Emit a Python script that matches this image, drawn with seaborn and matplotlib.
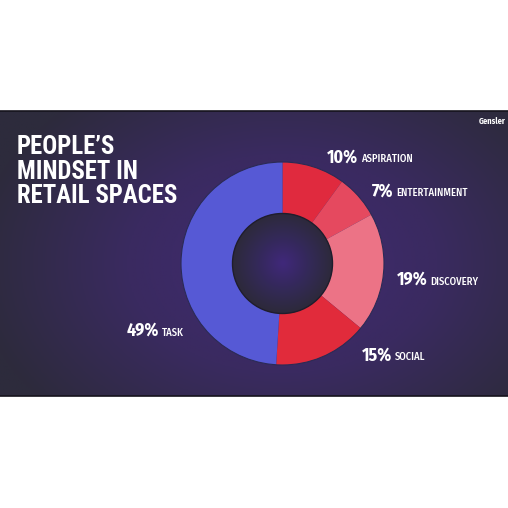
import numpy as np
import matplotlib
matplotlib.use("Agg")
import matplotlib.pyplot as plt
from matplotlib.patches import Circle
import seaborn as sns

# data
segments = ["ASPIRATION", "ENTERTAINMENT", "DISCOVERY", "SOCIAL", "TASK"]
shares = [10, 7, 19, 15, 49]
slice_colors = ["#E02A3E", "#E5495F", "#EC7386", "#E12B3B", "#5659D5"]
title_lines = ["PEOPLE\u2019S", "MINDSET IN", "RETAIL SPACES"]

sns.set_style("white")
plt.rcParams["font.family"] = ["Fira Sans Condensed", "DejaVu Sans"]
TITLE_FONT = ["Roboto Condensed", "DejaVu Sans"]

W = H = 508
fig = plt.figure(figsize=(5.08, 5.08), dpi=100)
ax = fig.add_axes([0, 0, 1, 1])

# banner background: radial purple glow around the donut
top, bottom = 111, 396
cx, cy = 282.5, H - 263.5
xs = np.linspace(0, W, 300)
ys = np.linspace(H - bottom, H - top, 200)
gx, gy = np.meshgrid(xs, ys)
d = np.sqrt(((gx - cx) / 310) ** 2 + ((gy - cy) / 220) ** 2)
bg_cmap = sns.blend_palette(["#412A72", "#3A2A60", "#2D2B3C"], as_cmap=True)
ax.imshow(np.clip(d, 0, 1), cmap=bg_cmap, extent=(0, W, H - bottom, H - top),
          origin="lower", aspect="auto", zorder=0)
ax.hlines([H - top, H - bottom], 0, W, color="#15131c", lw=1.2, zorder=1)

# donut
r_out, r_in = 101.5, 50
wedges, _ = ax.pie(shares, colors=slice_colors, startangle=90, counterclock=False,
                   center=(cx, cy), radius=r_out,
                   wedgeprops=dict(width=r_out - r_in, linewidth=0))
for w in wedges:
    w.set_zorder(2)
ax.add_patch(Circle((cx, cy), r_out, fill=False, ec="#2B2A55", lw=0.8, zorder=3))

# hole with its own soft glow
hx = np.linspace(cx - r_in, cx + r_in, 120)
hy = np.linspace(cy - r_in, cy + r_in, 120)
hgx, hgy = np.meshgrid(hx, hy)
hd = np.sqrt((hgx - cx) ** 2 + (hgy - cy) ** 2) / r_in
hole_cmap = sns.blend_palette(["#40287A", "#34295A", "#2D2A3B"], as_cmap=True)
hole = ax.imshow(np.clip(hd, 0, 1), cmap=hole_cmap,
                 extent=(cx - r_in, cx + r_in, cy - r_in, cy + r_in),
                 origin="lower", aspect="auto", zorder=4)
hole.set_clip_path(Circle((cx, cy), r_in, transform=ax.transData))
ax.add_patch(Circle((cx, cy), r_in, fill=False, ec="#1F1D2C", lw=1.0, zorder=5))

ax.set_xlim(0, W)
ax.set_ylim(0, H)
ax.axis("off")

# slice labels (x of the percent, baseline y) in pixels from the top
label_pos = [(327, 162.5), (372, 196.5), (397, 285), (362, 360.5), (127, 335.5)]
for name, val, (lx, ly) in zip(segments, shares, label_pos):
    pct = ax.text(lx, H - ly, f"{val}%", color="white", fontsize=12.8,
                  fontweight="bold", ha="left", va="baseline", zorder=6)
    ax.annotate(name, xy=(1, H - ly), xycoords=(pct, "data"),
                xytext=(2, 0), textcoords="offset points",
                color="white", fontsize=7.6, fontweight="medium",
                ha="left", va="baseline", zorder=6)

# title
for i, line in enumerate(title_lines):
    ax.text(17, H - (154.5 + 24.2 * i), line, color="white", fontsize=17.8,
            family=TITLE_FONT, fontweight="bold", ha="left", va="baseline", zorder=6)

ax.text(506, H - 124, "Gensler", color="white", fontsize=6, fontweight="bold",
        ha="right", va="baseline", zorder=6)

fig.savefig("out.png", dpi=100, facecolor="white")
